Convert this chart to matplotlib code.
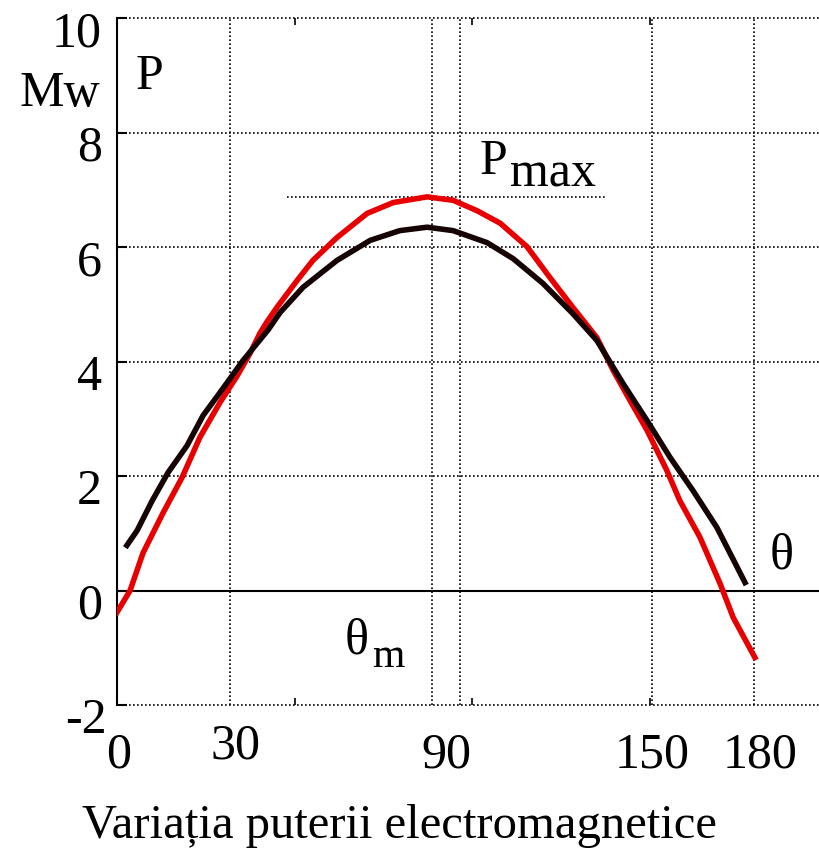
import matplotlib
matplotlib.use("Agg")
import matplotlib.pyplot as plt

# red curve (angle in degrees, power in MW)
theta_red = [0.0, 3.3, 6.6, 11.6, 16.5, 21.0, 26.1, 30.4, 33.7, 36.2, 38.0, 40.5, 45.6,
             49.6, 55.7, 63.3, 69.9, 78.5, 85.1, 91.1, 97.0, 103.8, 109.6, 115.4,
             121.5, 125.6, 129.9, 134.2, 139.2, 142.5, 147.6, 152.7, 156.0, 161.5]
p_red = [-0.38, 0.0, 0.66, 1.35, 1.98, 2.68, 3.29, 3.75, 4.15, 4.50, 4.70, 4.95, 5.42,
         5.77, 6.17, 6.59, 6.78, 6.88, 6.82, 6.64, 6.42, 6.01, 5.47, 4.95,
         4.42, 3.85, 3.32, 2.80, 2.10, 1.57, 0.93, 0.12, -0.47, -1.17]

# black curve
theta_black = [2.5, 5.1, 8.9, 12.9, 17.7, 21.8, 26.8, 31.9, 38.2, 41.3, 47.1, 55.7,
               64.1, 71.6, 78.5, 85.1, 93.7, 100.3, 107.8, 115.4, 121.5, 128.1,
               134.2, 140.0, 145.8, 151.9, 159.0]
p_black = [0.79, 1.05, 1.57, 2.06, 2.53, 3.06, 3.53, 4.02, 4.55, 4.86, 5.30, 5.77,
           6.12, 6.29, 6.35, 6.29, 6.08, 5.80, 5.37, 4.84, 4.37, 3.62,
           2.97, 2.33, 1.75, 1.10, 0.14]

ytick_vals = [10, 8, 6, 4, 2, 0, -2]
ytick_labels = ["10", "8", "6", "4", "2", "0", "-2"]
xtick_pos = [0.5, 29.9, 83.5, 135.4, 162.8]
xtick_labels = ["0", "30", "90", "150", "180"]
xgrid = [28.6, 79.7, 86.8, 135.4, 161.3]
ygrid = [-2, 2, 4, 6, 8, 10]
p_max = 6.88

SERIF = ["Liberation Serif", "DejaVu Serif"]
FS = 36
dotted = dict(color="black", lw=1.2, linestyle=(0, (1, 1.4)), clip_on=False)

fig = plt.figure(figsize=(8.2, 8.48), dpi=100)
ax = fig.add_axes([0.1427, 0.1686, 0.867, 0.8098])
ax.set_xlim(0, 180)
ax.set_ylim(-2, 10)

for y in ygrid:
    ax.plot([0, 180], [y, y], **dotted)
for x in xgrid:
    ax.plot([x, x], [-2, 10], **dotted)
ax.plot([43.0, 123.5], [p_max, p_max], **dotted)
ax.axhline(0, color="black", lw=1.5)

ax.plot(theta_red, p_red, color="#e80000", lw=4, solid_joinstyle="round", zorder=3)
ax.plot(theta_black, p_black, color="#160303", lw=4, solid_joinstyle="round", zorder=4)

for s in ["top", "right", "bottom"]:
    ax.spines[s].set_visible(False)
ax.spines["left"].set_linewidth(1.5)

ax.set_yticks(ytick_vals)
ax.tick_params(axis="y", direction="in", length=7, width=1.5, labelleft=False)
ax.set_xticks([45, 90, 135])
ax.tick_params(axis="x", direction="in", length=5, width=1.2, top=True,
               labelbottom=False)

for v, lab in zip(ytick_vals, ytick_labels):
    dx = -3.8 if v != -2 else -2.5
    ax.text(dx, v - 0.49, lab, ha="right", va="baseline", family=SERIF,
            fontsize=FS, clip_on=False)

for x, lab in zip(xtick_pos, xtick_labels):
    yb = -2.93 if lab == "30" else -3.1
    ax.text(x, yb, lab, ha="center", va="baseline", family=SERIF, fontsize=FS)

ax.text(-4.3, 8.47, "Mw", ha="right", va="baseline", family=SERIF, fontsize=FS)
ax.text(4.6, 8.77, "P", ha="left", va="baseline", family=SERIF, fontsize=FS)
ax.text(91.9, 7.28, "P", ha="left", va="baseline", family=SERIF, fontsize=FS)
ax.text(99.5, 7.06, "max", ha="left", va="baseline", family=SERIF, fontsize=FS)
ax.text(57.7, -1.10, "θ", ha="left", va="baseline", family=SERIF, fontsize=FS)
ax.text(64.6, -1.33, "m", ha="left", va="baseline", family=SERIF, fontsize=30)
ax.text(165.3, 0.38, "θ", ha="left", va="baseline", family=SERIF, fontsize=FS)
ax.text(71.6, -4.33, "Variația puterii electromagnetice", ha="center",
        va="baseline", family=SERIF, fontsize=35)

fig.savefig("out.png", dpi=100)
